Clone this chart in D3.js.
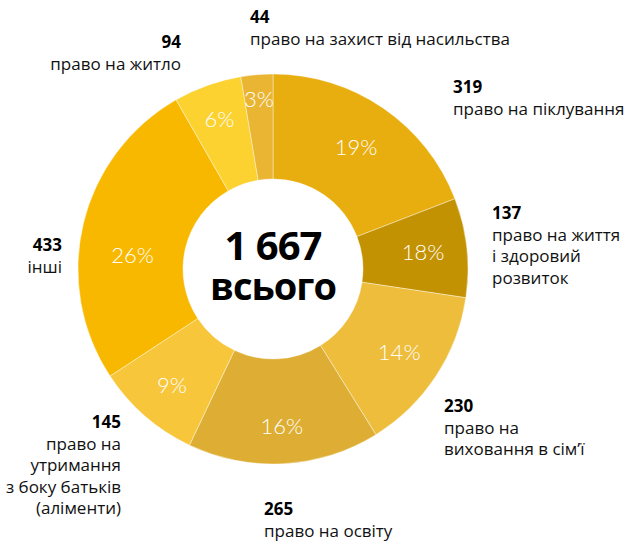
<!DOCTYPE html>
<html>
<head>
<meta charset="utf-8">
<script src="https://cdn.jsdelivr.net/npm/d3@7"></script>
<style>
  body { margin: 0; background: #fff; }
  svg { font-family: "Open Sans", "Noto Sans", sans-serif; }
  .num { font-weight: 700; font-size: 17px; fill: #000; }
  .lbl { font-size: 17px; fill: #111; }
  .pct { font-family: Lato, "Open Sans", sans-serif; font-weight: 300; font-size: 22px; fill: #fff; }
</style>
</head>
<body>
<svg id="chart"></svg>
<script>
// categories in clockwise order from 12 o'clock
var values = [319, 137, 230, 265, 145, 433, 94, 44];
var percents = ["19%", "18%", "14%", "16%", "9%", "26%", "6%", "3%"];
var colors = ["#e8ae0f", "#c39203", "#edbd3b", "#ddae33", "#f8c63a", "#f9b800", "#fcd231", "#e9b533"];
var labels = [
  ["право на піклування"],
  ["право на життя", "і здоровий", "розвиток"],
  ["право на", "виховання в сім’ї"],
  ["право на освіту"],
  ["право на", "утримання", "з боку батьків", "(аліменти)"],
  ["інші"],
  ["право на житло"],
  ["право на захист від насильства"]
];
var total = "1 667";
var totalLabel = "всього";

// label anchor spots (x, baseline of number, text-anchor)
var labelPos = [
  [453, 93, "start"],
  [492, 219, "start"],
  [444, 412, "start"],
  [264, 515, "start"],
  [121, 428, "end"],
  [62, 251, "end"],
  [181, 48, "end"],
  [250, 23, "start"]
];
// radius and angle nudge (degrees) of the percent labels
var pctR = [147, 151, 151, 158, 154, 141, 159, 170];
var pctNudge = [0, 0, 0, 0, 0, -8, 0, 0];

var width = 625, height = 542;
var cx = 273, cy = 269, outerR = 195, innerR = 90;

var svg = d3.select("#chart")
    .attr("width", width)
    .attr("height", height);

var g = svg.append("g")
    .attr("transform", "translate(" + cx + "," + cy + ")");

var pie = d3.pie().sort(null).value(function(d) { return d; });
var arc = d3.arc().innerRadius(innerR).outerRadius(outerR);
var arcs = pie(values);

g.selectAll("path")
    .data(arcs)
  .enter().append("path")
    .attr("d", arc)
    .attr("fill", function(d, i) { return colors[i]; })
    .attr("stroke", "#fff")
    .attr("stroke-opacity", 0.5)
    .attr("stroke-width", 0.8);

g.selectAll("text.pct")
    .data(arcs)
  .enter().append("text")
    .attr("class", "pct")
    .attr("text-anchor", "middle")
    .attr("dy", "0.35em")
    .attr("transform", function(d, i) {
      var a = (d.startAngle + d.endAngle) / 2 + pctNudge[i] * Math.PI / 180;
      var c = d3.pointRadial(a, pctR[i]);
      return "translate(" + c[0] + "," + c[1] + ")";
    })
    .text(function(d, i) { return percents[i]; });

// centre
g.append("text")
    .attr("text-anchor", "middle")
    .attr("y", -9)
    .style("font-weight", 700)
    .style("font-size", "40px")
    .style("letter-spacing", "-1px")
    .text(total);
g.append("text")
    .attr("text-anchor", "middle")
    .attr("y", 31)
    .style("font-weight", 700)
    .style("font-size", "38px")
    .style("letter-spacing", "-1px")
    .text(totalLabel);

// outside labels
var lineH = 21.5;
var lab = svg.selectAll("g.lab")
    .data(values)
  .enter().append("g")
    .attr("class", "lab")
    .attr("transform", function(d, i) {
      return "translate(" + labelPos[i][0] + "," + labelPos[i][1] + ")";
    });

lab.append("text")
    .attr("class", "num")
    .attr("text-anchor", function(d, i) { return labelPos[i][2]; })
    .text(function(d) { return d; });

lab.each(function(d, i) {
  d3.select(this).selectAll("text.lbl")
      .data(labels[i])
    .enter().append("text")
      .attr("class", "lbl")
      .attr("text-anchor", labelPos[i][2])
      .attr("y", function(t, j) { return (j + 1) * lineH; })
      .text(function(t) { return t; });
});
</script>
</body>
</html>
